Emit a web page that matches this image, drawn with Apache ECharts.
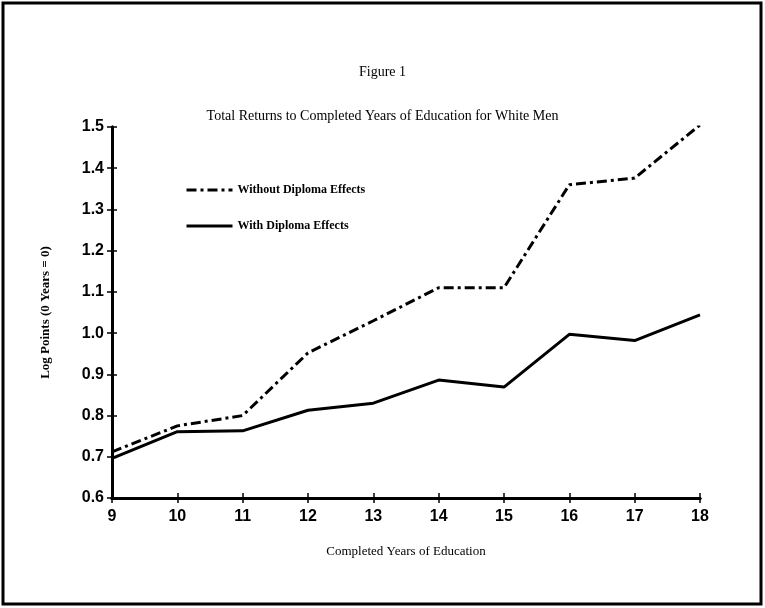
<!DOCTYPE html>
<html>
<head>
<meta charset="utf-8">
<script src="https://cdn.jsdelivr.net/npm/echarts@6/dist/echarts.min.js"></script>
<style>
  html, body { margin: 0; padding: 0; background: #fff; }
  #main { width: 765px; height: 608px; }
</style>
</head>
<body>
<div id="main"></div>
<script>
  // years of schooling on the x axis
  var years = [9, 10, 11, 12, 13, 14, 15, 16, 17, 18];
  // log points
  var withoutDiploma = [0.712, 0.775, 0.800, 0.952, 1.030, 1.110, 1.110, 1.360, 1.376, 1.505];
  var withDiploma = [0.696, 0.761, 0.763, 0.813, 0.830, 0.886, 0.869, 0.997, 0.982, 1.044];
  var seriesNames = ['Without Diploma Effects', 'With Diploma Effects'];

  var serif = '"Liberation Serif", "DejaVu Serif", serif';
  var sans = '"Liberation Sans", Arial, sans-serif';

  function pairs(ys) {
    var out = [];
    for (var i = 0; i < years.length; i++) {
      out.push([years[i], ys[i]]);
    }
    return out;
  }

  var myChart = echarts.init(document.getElementById('main'));

  var yBase = {
    type: 'value',
    min: 0.6,
    max: 1.5,
    interval: 0.1,
    splitLine: { show: false },
    axisLine: { show: true, lineStyle: { color: '#000', width: 3 } }
  };
  var xBase = {
    type: 'value',
    min: 9,
    max: 18,
    interval: 1,
    splitLine: { show: false },
    axisLine: { show: true, lineStyle: { color: '#000', width: 3 } }
  };

  myChart.setOption({
    backgroundColor: '#fff',
    animation: false,
    title: [{
      text: 'Figure 1',
      left: 'center',
      top: 60,
      textStyle: { fontFamily: serif, fontSize: 14, fontWeight: 'normal', color: '#000' }
    }, {
      text: 'Total Returns to Completed Years of Education for White Men',
      left: 'center',
      top: 104,
      textStyle: { fontFamily: serif, fontSize: 14, fontWeight: 'normal', color: '#000' }
    }],
    legend: {
      orient: 'vertical',
      left: 180,
      top: 179,
      itemGap: 24,
      itemWidth: 46,
      itemHeight: 14,
      data: seriesNames,
      itemStyle: { color: 'transparent', borderWidth: 0 },
      lineStyle: { width: 3 },
      textStyle: { fontFamily: serif, fontSize: 12, fontWeight: 'bold', color: '#000' }
    },
    grid: {
      left: 112,
      right: 65,
      top: 127,
      bottom: 110
    },
    xAxis: [Object.assign({}, xBase, {
      name: 'Completed Years of Education',
      nameLocation: 'middle',
      nameGap: 47,
      nameTextStyle: { fontFamily: serif, fontSize: 13, color: '#000' },
      axisTick: { show: true, length: 5, lineStyle: { color: '#000', width: 1.5 } },
      axisLabel: { fontFamily: sans, fontSize: 16, fontWeight: 'bold', color: '#000', margin: 11 }
    }), Object.assign({}, xBase, {
      position: 'bottom',
      axisTick: { show: true, inside: true, length: 5, lineStyle: { color: '#000', width: 1.5 } },
      axisLabel: { show: false }
    })],
    yAxis: [Object.assign({}, yBase, {
      name: 'Log Points (0 Years = 0)',
      nameLocation: 'middle',
      nameGap: 60,
      nameTextStyle: { fontFamily: serif, fontSize: 13, fontWeight: 'bold', color: '#000' },
      axisTick: { show: true, length: 5, lineStyle: { color: '#000', width: 1.5 } },
      axisLabel: {
        fontFamily: sans, fontSize: 16, fontWeight: 'bold', color: '#000', margin: 8,
        formatter: function (v) { return v.toFixed(1); }
      }
    }), Object.assign({}, yBase, {
      position: 'left',
      axisTick: { show: true, inside: true, length: 5, lineStyle: { color: '#000', width: 1.5 } },
      axisLabel: { show: false }
    })],
    series: [{
      name: seriesNames[0],
      type: 'line',
      symbol: 'none',
      data: pairs(withoutDiploma),
      itemStyle: { color: '#000' },
      lineStyle: { color: '#000', width: 3, type: [10, 4, 3, 4] }
    }, {
      name: seriesNames[1],
      type: 'line',
      symbol: 'none',
      data: pairs(withDiploma),
      itemStyle: { color: '#000' },
      lineStyle: { color: '#000', width: 3, type: 'solid' }
    }],
    graphic: [{
      type: 'rect',
      shape: { x: 3, y: 3, width: 758, height: 601 },
      style: { fill: 'none', stroke: '#000', lineWidth: 3 },
      silent: true
    }]
  });
</script>
</body>
</html>
